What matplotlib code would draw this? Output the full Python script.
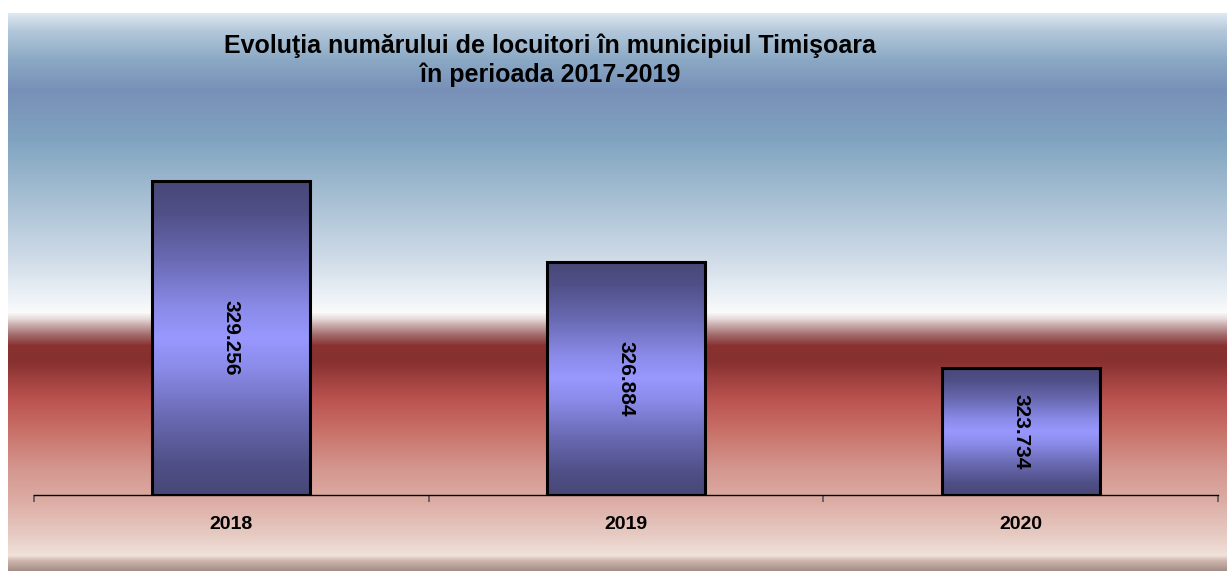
import numpy as np
import matplotlib
matplotlib.use('Agg')
import matplotlib.pyplot as plt
from matplotlib.colors import to_rgb

plt.rcParams['font.family'] = ['Liberation Sans', 'DejaVu Sans']

# date
ani = ['2018', '2019', '2020']
locuitori = [329.256, 326.884, 323.734]
etichete = ['329.256', '326.884', '323.734']
titlu = 'Evoluţia numărului de locuitori în municipiul Timişoara\nîn perioada 2017-2019'

W, H = 1227, 571
fig = plt.figure(figsize=(W / 100, H / 100), dpi=100)
fig.patch.set_facecolor('white')

# fundal in degrade (pozitii in pixeli de sus)
stops = [(13, '#dde8f2'), (30, '#b4c8da'), (60, '#8aa8c4'), (90, '#7890b8'),
         (140, '#80a4c0'), (200, '#a8c0d4'), (260, '#d0dce8'), (300, '#f0f4f8'),
         (312, '#fafafa'), (318, '#e8dcdc'), (325, '#c8a8a8'), (335, '#a06868'),
         (345, '#8a3232'), (360, '#863030'), (400, '#bc5450'), (430, '#c87068'),
         (470, '#d49890'), (500, '#dcaca4'), (540, '#e8d0c8'), (555, '#f0e2da'),
         (560, '#d0b8b0'), (571, '#a08a84')]
ys = np.arange(13, 571)
sy = [s[0] for s in stops]
cols = np.array([to_rgb(s[1]) for s in stops])
grad = np.stack([np.interp(ys, sy, cols[:, i]) for i in range(3)], axis=1)
bg = fig.add_axes([8 / W, 0, 1 - 8 / W, (571 - 13) / H])
bg.imshow(grad[:, None, :], aspect='auto', interpolation='bilinear')
bg.axis('off')

# axa principala
ax = fig.add_axes([34 / W, 76 / H, 1184 / W, 339 / H])
ax.patch.set_alpha(0)

x = np.arange(len(ani))
width = 0.40
bar_stops = [0, 0.1, 0.25, 0.4, 0.5, 0.6, 0.75, 0.9, 1]
bar_cols = np.array([to_rgb(c) for c in ['#474777', '#505088', '#6a6ab4', '#8a8ae8', '#9898ff',
                                         '#8a8ae8', '#6a6ab4', '#505088', '#474777']])
t = np.linspace(0, 1, 200)
bar_grad = np.stack([np.interp(t, bar_stops, bar_cols[:, i]) for i in range(3)], axis=1)

for xi, val, lab in zip(x, locuitori, etichete):
    ax.imshow(bar_grad[:, None, :], extent=(xi - width / 2, xi + width / 2, 320, val),
              aspect='auto', origin='lower', zorder=2)
    ax.bar(xi, val - 320, bottom=320, width=width, facecolor='none',
           edgecolor='black', linewidth=2.2, zorder=3)
    ax.text(xi, (320 + val) / 2, lab, rotation=270, ha='center', va='center',
            fontsize=15, fontweight='bold', color='black', zorder=4)

ax.set_aspect('auto')
ax.set_xlim(-0.5, 2.5)
ax.set_ylim(320, 330)

for s in ['top', 'right', 'left']:
    ax.spines[s].set_visible(False)
ax.spines['bottom'].set_linewidth(1.0)
ax.set_yticks([])
ax.set_xticks(x)
ax.set_xticklabels(ani, fontsize=14, fontweight='bold')
ax.tick_params(axis='x', which='major', length=0, pad=15)
ax.set_xticks([-0.5, 0.5, 1.5, 2.5], minor=True)
ax.tick_params(axis='x', which='minor', length=5, width=1.2, color='#555555')

fig.text(550 / W, 1 - 60 / H, titlu, ha='center', va='center', fontsize=18,
         fontweight='bold', linespacing=1.25)

fig.savefig('out.png', dpi=100)
